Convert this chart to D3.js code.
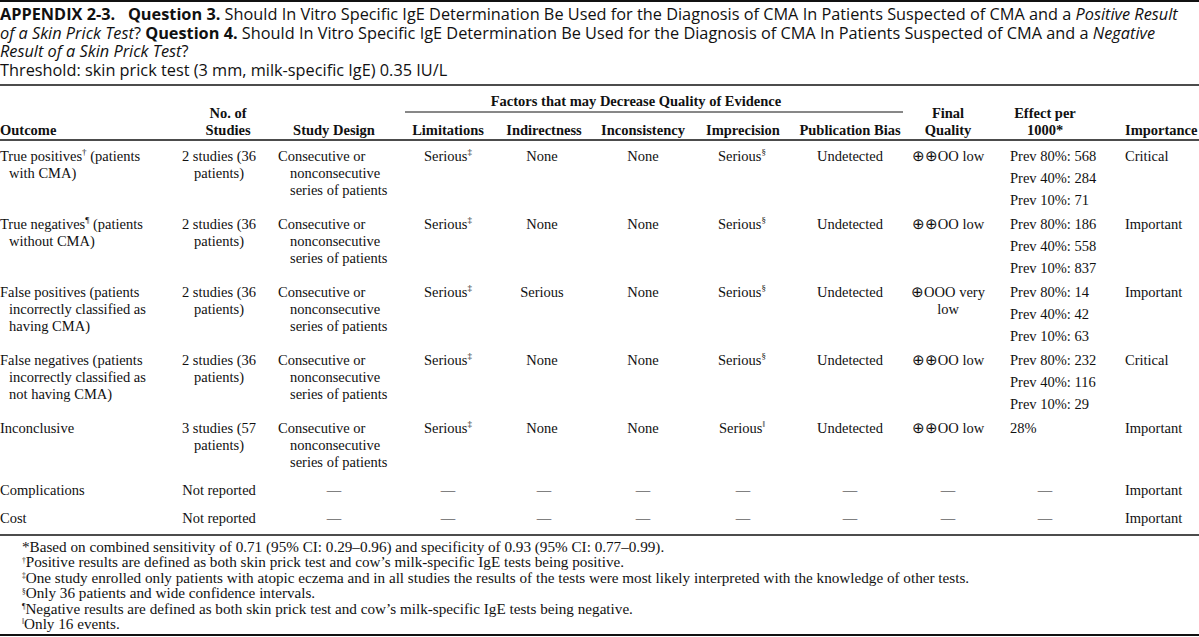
<!DOCTYPE html>
<html>
<head>
<meta charset="utf-8">
<script src="https://cdn.jsdelivr.net/npm/d3@7/dist/d3.min.js"></script>
<style>
  html, body { margin: 0; padding: 0; background: #fff; }
  svg text { white-space: pre; fill: #111; }
</style>
</head>
<body>
<div id="chart"></div>
<script>
//Datos de la tabla
const outcomes = [
    ['True positives^† (patients', 'with CMA)'],
    ['True negatives^¶ (patients', 'without CMA)'],
    ['False positives (patients', 'incorrectly classified as', 'having CMA)'],
    ['False negatives (patients', 'incorrectly classified as', 'not having CMA)'],
    ['Inconclusive'],
    ['Complications'],
    ['Cost']
];
const studies = [
    ['2 studies (36', 'patients)'],
    ['2 studies (36', 'patients)'],
    ['2 studies (36', 'patients)'],
    ['2 studies (36', 'patients)'],
    ['3 studies (57', 'patients)'],
    ['Not reported'],
    ['Not reported']
];
const designs = [
    ['Consecutive or', 'nonconsecutive', 'series of patients'],
    ['Consecutive or', 'nonconsecutive', 'series of patients'],
    ['Consecutive or', 'nonconsecutive', 'series of patients'],
    ['Consecutive or', 'nonconsecutive', 'series of patients'],
    ['Consecutive or', 'nonconsecutive', 'series of patients'],
    ['—'],
    ['—']
];
const limitations = ['Serious^‡', 'Serious^‡', 'Serious^‡', 'Serious^‡', 'Serious^‡', '—', '—'];
const indirectness = ['None', 'None', 'Serious', 'None', 'None', '—', '—'];
const inconsistency = ['None', 'None', 'None', 'None', 'None', '—', '—'];
const imprecision = ['Serious^§', 'Serious^§', 'Serious^§', 'Serious^§', 'Serious^‖', '—', '—'];
const publicationBias = ['Undetected', 'Undetected', 'Undetected', 'Undetected', 'Undetected', '—', '—'];
const quality = [['⊕⊕OO low'], ['⊕⊕OO low'], ['⊕OOO very', 'low'], ['⊕⊕OO low'], ['⊕⊕OO low'], ['—'], ['—']];
const prevalence = ['Prev 80%', 'Prev 40%', 'Prev 10%'];
const effects = [[568, 284, 71], [186, 558, 837], [14, 42, 63], [232, 116, 29], null, null, null];
const effectOther = [null, null, null, null, '28%', '—', '—'];
const importance = ['Critical', 'Important', 'Important', 'Critical', 'Important', 'Important', 'Important'];

const titleLines = [
    [['b', 'APPENDIX 2-3.'], ['r', '   '], ['b', 'Question 3.'], ['r', ' Should In Vitro Specific IgE Determination Be Used for the Diagnosis of CMA In Patients Suspected of CMA and a '], ['i', 'Positive Result']],
    [['i', 'of a Skin Prick Test'], ['r', '? '], ['b', 'Question 4.'], ['r', ' Should In Vitro Specific IgE Determination Be Used for the Diagnosis of CMA In Patients Suspected of CMA and a '], ['i', 'Negative']],
    [['i', 'Result of a Skin Prick Test'], ['r', '?']],
    [['r', 'Threshold: skin prick test (3 mm, milk-specific IgE) 0.35 IU/L']]
];
const footnotes = [
    '*Based on combined sensitivity of 0.71 (95% CI: 0.29–0.96) and specificity of 0.93 (95% CI: 0.77–0.99).',
    '^†Positive results are defined as both skin prick test and cow’s milk-specific IgE tests being positive.',
    '^‡One study enrolled only patients with atopic eczema and in all studies the results of the tests were most likely interpreted with the knowledge of other tests.',
    '^§Only 36 patients and wide confidence intervals.',
    '^¶Negative results are defined as both skin prick test and cow’s milk-specific IgE tests being negative.',
    '^‖Only 16 events.'
];
const groupHeader = 'Factors that may Decrease Quality of Evidence';

//Columnas: clave, cabecera, posición del texto y alineación
const columns = [
    {key: 'outcome', head: ['Outcome'], x: 0, hx: 0, anchor: 'start', hanchor: 'start', indent: 9},
    {key: 'studies', head: ['No. of', 'Studies'], x: 219, hx: 228, anchor: 'middle', hanchor: 'middle'},
    {key: 'design', head: ['Study Design'], x: 278, hx: 334, anchor: 'start', hanchor: 'middle', indent: 12},
    {key: 'limitations', head: ['Limitations'], x: 448, hx: 448, anchor: 'middle', hanchor: 'middle'},
    {key: 'indirectness', head: ['Indirectness'], x: 542, hx: 544, anchor: 'middle', hanchor: 'middle'},
    {key: 'inconsistency', head: ['Inconsistency'], x: 643, hx: 643, anchor: 'middle', hanchor: 'middle'},
    {key: 'imprecision', head: ['Imprecision'], x: 742, hx: 743, anchor: 'middle', hanchor: 'middle'},
    {key: 'pub', head: ['Publication Bias'], x: 850, hx: 850, anchor: 'middle', hanchor: 'middle'},
    {key: 'quality', head: ['Final', 'Quality'], x: 948, hx: 948, anchor: 'middle', hanchor: 'middle'},
    {key: 'effect', head: ['Effect per', '1000*'], x: 1010, hx: 1045, anchor: 'start', hanchor: 'middle'},
    {key: 'importance', head: ['Importance'], x: 1125, hx: 1125, anchor: 'start', hanchor: 'start'}
];

const width = 1199, height = 637;
const SERIF = '"Liberation Serif", "Times New Roman", serif';
const SANS = '"Open Sans", "Noto Sans", sans-serif';
const BODY_SIZE = 14.5;

let svg = d3.select('#chart')
    .append('svg')
        .attr('width', width)
        .attr('height', height);

//Texto con superíndices marcados con ^
function richText(sel, str, size) {
    let parts = str.split(/(\^.)/).filter(function(p) { return p.length; });
    let shifted = false;
    parts.forEach(function(p) {
        if (p[0] == '^') {
            sel.append('tspan').attr('dy', -size * 0.38).attr('font-size', size * 0.62).text(p[1]);
            shifted = true;
        } else {
            sel.append('tspan').attr('dy', shifted ? size * 0.38 : null).text(p);
            shifted = false;
        }
    });
}

//Filas de la tabla
let rows = outcomes.map(function(d, i) {
    return {
        outcome: d,
        studies: studies[i],
        design: designs[i],
        limitations: [limitations[i]],
        indirectness: [indirectness[i]],
        inconsistency: [inconsistency[i]],
        imprecision: [imprecision[i]],
        pub: [publicationBias[i]],
        quality: quality[i],
        effect: effects[i] ? prevalence.map(function(p, j) { return p + ': ' + effects[i][j]; }) : [effectOther[i]],
        importance: [importance[i]]
    };
});

const LINE = 17, EFFECT_LINE = 22;
let rowHeights = rows.map(function(r) {
    let maxLines = d3.max(columns.filter(function(c) { return c.key != 'effect'; }), function(c) { return r[c.key].length; });
    return Math.max(r.effect.length * EFFECT_LINE + 2, maxLines * LINE + 11);
});
const firstRow = 161;
let rowY = d3.scaleOrdinal()
    .domain(d3.range(rows.length))
    .range([firstRow].concat(Array.from(d3.cumsum(rowHeights)).map(function(h) { return firstRow + h; })).slice(0, rows.length));

//Título
let title = svg.append('g').attr('font-family', SANS);
let titleNodes = titleLines.map(function(line, i) {
    let t = title.append('text')
        .attr('x', 0)
        .attr('y', 20 + i * 18.7)
        .attr('font-size', 15);
    line.forEach(function(seg) {
        t.append('tspan')
            .attr('font-weight', seg[0] == 'b' ? 'bold' : null)
            .attr('font-style', seg[0] == 'i' ? 'italic' : null)
            .text(seg[1]);
    });
    return t;
});
let titleSize = 15 * 1178 / titleNodes[0].node().getComputedTextLength();
titleNodes.forEach(function(t) { t.attr('font-size', titleSize); });

//Líneas horizontales
let rules = [
    {x1: 0, x2: width, y: 1, w: 2},
    {x1: 0, x2: width, y: 85, w: 1.5},
    {x1: 405, x2: 903, y: 112, w: 1},
    {x1: 0, x2: width, y: 140, w: 1.5},
    {x1: 0, x2: width, y: 535, w: 1.5},
    {x1: 0, x2: width, y: 635, w: 2}
];
svg.selectAll('.rule')
    .data(rules)
    .enter()
    .append('line')
    .attr('class', 'rule')
    .attr('x1', function(d) { return d.x1; })
    .attr('x2', function(d) { return d.x2; })
    .attr('y1', function(d) { return d.y; })
    .attr('y2', function(d) { return d.y; })
    .attr('stroke', '#111')
    .attr('stroke-width', function(d) { return d.w; });

//Cabecera
let header = svg.append('g')
    .attr('font-family', SERIF)
    .attr('font-weight', 'bold')
    .attr('font-size', BODY_SIZE);

header.append('text')
    .attr('x', 636)
    .attr('y', 106)
    .attr('text-anchor', 'middle')
    .text(groupHeader);

columns.forEach(function(c) {
    c.head.forEach(function(h, j) {
        header.append('text')
            .attr('x', c.hx)
            .attr('y', 135 - (c.head.length - 1 - j) * 17)
            .attr('text-anchor', c.hanchor)
            .text(h);
    });
});

//Cuerpo
let body = svg.append('g')
    .attr('font-family', SERIF)
    .attr('font-size', BODY_SIZE);

rows.forEach(function(r, i) {
    columns.forEach(function(c) {
        let lines = r[c.key];
        let isDash = lines.length == 1 && lines[0] == '—';
        let step = c.key == 'effect' ? EFFECT_LINE : LINE;
        lines.forEach(function(l, j) {
            let x = isDash ? c.hx : c.x + (j > 0 && c.indent ? c.indent : 0);
            let anchor = isDash ? 'middle' : c.anchor;
            if (isDash && c.key == 'importance') { x = c.x; anchor = 'start'; }
            let t = body.append('text')
                .attr('x', x)
                .attr('y', rowY(i) + j * step)
                .attr('text-anchor', anchor);
            richText(t, l, BODY_SIZE);
        });
    });
});

//Notas al pie
let notes = svg.append('g')
    .attr('font-family', SERIF)
    .attr('font-size', 12);
let noteNodes = footnotes.map(function(f, i) {
    let t = notes.append('text')
        .attr('x', 22)
        .attr('y', 552 + i * 15.4);
    richText(t, f, 12);
    return t;
});
let noteSize = 12 * 949 / noteNodes[2].node().getComputedTextLength();
notes.attr('font-size', noteSize);
</script>
</body>
</html>
